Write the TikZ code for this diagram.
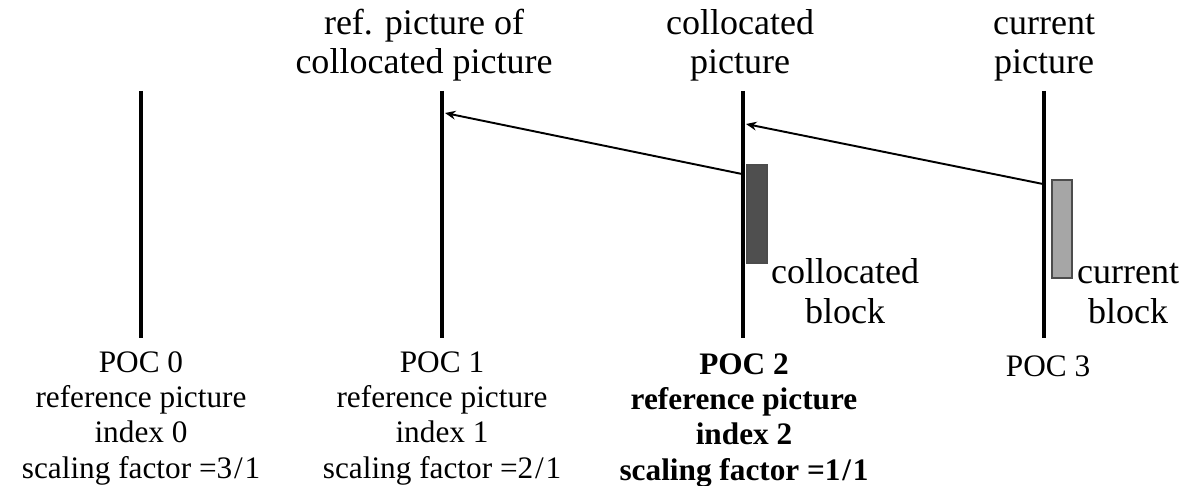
\documentclass[tikz,border=0pt]{standalone}
\usepackage{fontspec}
\setmainfont{Liberation Serif}
\usetikzlibrary{arrows.meta}
\begin{document}
\begin{tikzpicture}[x=0.02cm,y=-0.02cm,
  pocline/.style={line width=2.8pt},
  mvarrow/.style={line width=1.1pt,-{Stealth[length=6pt,width=5pt]}},
  toplabel/.style={font=\fontsize{20.5}{22.3}\selectfont,align=center,inner sep=0pt,anchor=base},
  pocinfo/.style={font=\fontsize{17.8}{20}\selectfont,align=center,inner sep=0pt,anchor=base},
  blk/.style={draw=black!70,line width=0.6pt,inner sep=0pt,outer sep=0pt,
              minimum width=0.4cm,minimum height=1.96cm,anchor=north west}]
\useasboundingbox (0,0) rectangle (1186,486);

% picture time lines
\coordinate (t0) at (141,91);  \coordinate (b0) at (141,338);
\coordinate (t1) at (442,91);  \coordinate (b1) at (442,338);
\coordinate (t2) at (743,91);  \coordinate (b2) at (743,338);
\coordinate (t3) at (1044,91); \coordinate (b3) at (1044,338);
\draw[pocline] (t0) -- (b0);
\draw[pocline] (t1) -- (b1);
\draw[pocline] (t2) -- (b2);
\draw[pocline] (t3) -- (b3);

% blocks
\node[blk,fill=black!69] (colblk) at (747,165) {};
\node[blk,fill=black!35] (curblk) at (1052,180) {};

% motion vectors
\coordinate (a1s) at (742,174); \coordinate (a1e) at (445,113);
\coordinate (a2s) at (1043,184); \coordinate (a2e) at (746,124);
\draw[mvarrow] (a1s) -- (a1e);
\draw[mvarrow] (a2s) -- (a2e);

% headings (base anchor sits on the last line)
\node[toplabel] (h1) at (424,74) {ref. picture of\\collocated picture};
\node[toplabel] (h2) at (740,74) {collocated\\picture};
\node[toplabel] (h3) at (1044,74) {current\\picture};

% block labels
\node[toplabel] (l2) at (845,323) {collocated\\block};
\node[toplabel] (l3) at (1128,323) {current\\block};

% picture information
\node[pocinfo] (p0) at (141,478) {POC 0\\reference picture\\index 0\\scaling factor =3\kern1pt/\kern1pt1};
\node[pocinfo] (p1) at (442,478) {POC 1\\reference picture\\index 1\\scaling factor =2\kern1pt/\kern1pt1};
\node[pocinfo,font=\fontsize{17.8}{20}\selectfont\bfseries] (p2) at (744,480) {POC 2\\reference picture\\index 2\\scaling factor =1\kern1pt/\kern1pt1};
\node[pocinfo] (p3) at (1048,376) {POC 3};
\end{tikzpicture}
\end{document}
